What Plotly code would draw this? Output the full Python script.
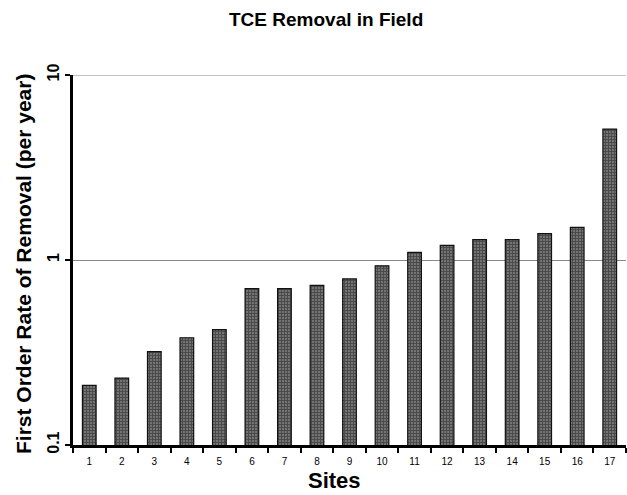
import plotly.graph_objects as go

sites = [str(i) for i in range(1, 18)]
rates = [0.21, 0.23, 0.32, 0.38, 0.42, 0.70, 0.70, 0.73, 0.79, 0.93,
         1.10, 1.20, 1.29, 1.29, 1.39, 1.50, 5.1]
y_ticks = [0.1, 1, 10]
y_tick_text = ["0.1", "1", "10"]

FONT = "Arial, Liberation Sans, sans-serif"
PL, PR, PT, PB = 73, 626, 75, 445  # plot area in pixels


def px_x(x):
    return (x - PL) / (PR - PL)


def px_y(y):
    return (PB - y) / (PB - PT)


fig = go.Figure(go.Bar(
    x=sites, y=rates, width=0.42,
    marker=dict(color="#555555",
                line=dict(color="#111111", width=1.2),
                pattern=dict(shape="+", fgcolor="#1a1a1a", bgcolor="#737373",
                             size=3, solidity=0.5)),
))

fig.update_layout(
    width=627, height=495,
    margin=dict(l=PL, r=627 - PR, t=PT, b=495 - PB),
    paper_bgcolor="white", plot_bgcolor="white",
    showlegend=False,
    font=dict(family=FONT, color="black"),
)
fig.add_annotation(text="<b>TCE Removal in Field</b>", xref="paper", yref="paper",
                   x=px_x(326), y=px_y(20), showarrow=False,
                   font=dict(size=19, family=FONT), xanchor="center", yanchor="middle")
fig.add_annotation(text="<b>Sites</b>", xref="paper", yref="paper",
                   x=px_x(334), y=px_y(481), showarrow=False,
                   font=dict(size=22, family=FONT), xanchor="center", yanchor="middle")
fig.add_annotation(text="<b>First Order Rate of Removal (per year)</b>",
                   xref="paper", yref="paper", x=px_x(23), y=px_y(264),
                   showarrow=False, textangle=-90,
                   font=dict(size=21, family=FONT), xanchor="center", yanchor="middle")
# gridline at the top of the log range (value 10)
fig.add_shape(type="line", xref="paper", yref="y", x0=0, x1=1, y0=10, y1=10,
              line=dict(color="#888888", width=1), layer="below")

fig.update_xaxes(
    type="category", showline=True, linecolor="black", linewidth=2.5,
    ticks="outside", tickson="boundaries", ticklen=5, tickwidth=2, tickcolor="black",
    tickfont=dict(size=10, family=FONT), ticklabelstandoff=5,
    showgrid=False, range=[-0.5, 16.5],
)
fig.update_yaxes(
    type="log", range=[-1, 1], tickvals=y_ticks, ticktext=y_tick_text,
    showline=True, linecolor="black", linewidth=2.5,
    ticks="outside", ticklen=5, tickwidth=2, tickcolor="black",
    tickangle=-90, tickfont=dict(size=16, family=FONT, weight="bold"),
    showgrid=True, gridcolor="#888888", gridwidth=1,
    zeroline=False,
)

fig.write_html("out.html", config={"displayModeBar": False},
               post_script="document.body.style.margin='0';document.body.style.overflow='hidden';")
